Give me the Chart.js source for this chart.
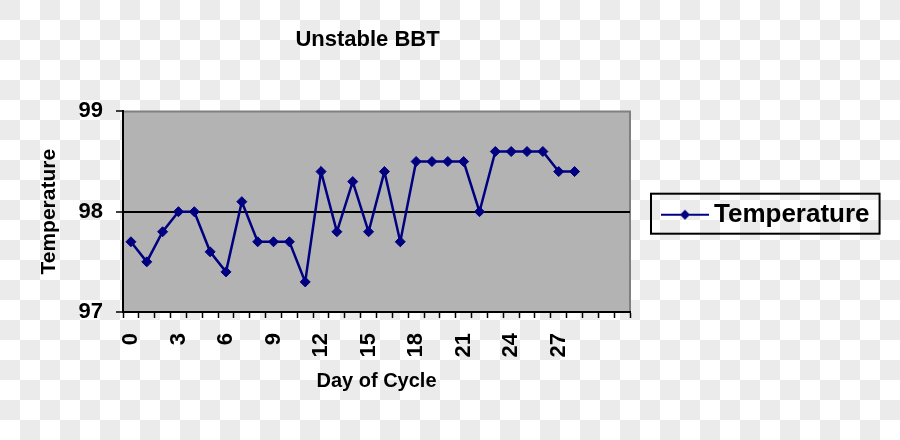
<!DOCTYPE html>
<html>
<head>
<meta charset="utf-8">
<script src="https://cdn.jsdelivr.net/npm/chart.js@4.4.1/dist/chart.umd.min.js"></script>
<style>
  html, body { margin: 0; padding: 0; }
  body {
    width: 900px; height: 440px; overflow: hidden;
    background-color: #ffffff;
    background-image:
      linear-gradient(45deg, #ebebeb 25%, transparent 25%, transparent 75%, #ebebeb 75%),
      linear-gradient(45deg, #ebebeb 25%, transparent 25%, transparent 75%, #ebebeb 75%);
    background-size: 40px 40px;
    background-position: 20px 0, 0 20px;
  }
  #wrap { position: relative; width: 900px; height: 440px; }
</style>
</head>
<body>
<div id="wrap"><canvas id="bbt" width="900" height="440"></canvas></div>
<script>
// ==================== DATA ====================
const days = ["0","1","2","3","4","5","6","7","8","9","10","11","12","13","14","15",
  "16","17","18","19","20","21","22","23","24","25","26","27","28","","",""];
const temperature = [97.7, 97.5, 97.8, 98.0, 98.0, 97.6, 97.4, 98.1, 97.7, 97.7, 97.7, 97.3,
  98.4, 97.8, 98.3, 97.8, 98.4, 97.7, 98.5, 98.5, 98.5, 98.5, 98.0, 98.6, 98.6, 98.6, 98.6, 98.4, 98.4];
const yTicks = [97, 98, 99];

const NAVY = "#000080";
const FONT = "'Liberation Sans', Arial, sans-serif";

// legend marker: line with diamond, like the Excel legend
const legendMarker = (() => {
  const c = document.createElement("canvas");
  c.width = 48; c.height = 14;
  const g = c.getContext("2d");
  g.strokeStyle = NAVY; g.lineWidth = 2;
  g.beginPath(); g.moveTo(0, 7); g.lineTo(48, 7); g.stroke();
  g.fillStyle = NAVY;
  g.beginPath(); g.moveTo(24, 2); g.lineTo(29, 7); g.lineTo(24, 12); g.lineTo(19, 7); g.closePath(); g.fill();
  return c;
})();

// grey plot area + grey top/right border
const plotBg = {
  id: "plotBg",
  beforeDraw(chart) {
    const { ctx, chartArea: a } = chart;
    ctx.save();
    ctx.fillStyle = "#b3b3b3";
    ctx.fillRect(a.left, a.top, a.right - a.left, a.bottom - a.top);
    ctx.strokeStyle = "#808080";
    ctx.lineWidth = 2;
    ctx.beginPath();
    ctx.moveTo(a.left, a.top); ctx.lineTo(a.right, a.top); ctx.lineTo(a.right, a.bottom);
    ctx.stroke();
    ctx.restore();
  }
};

// legend gets capped in width by the layout; give it room to the canvas edge so the text is not clipped
// (title nudged a bit left, Excel centres it that way)
const boxTweaks = {
  id: "boxTweaks",
  afterLayout(chart) {
    const lg = chart.legend;
    if (lg) {
      lg.right = chart.width;
      lg.width = lg.right - lg.left;
      lg.top += 3; lg.bottom += 3;
    }
    const tb = chart.titleBlock;
    if (tb) { tb.left -= 9; tb.right -= 9; }
  }
};

// frame round the legend
const legendFrame = {
  id: "legendFrame",
  afterDraw(chart) {
    const hb = chart.legend?.legendHitBoxes?.[0];
    if (!hb) return;
    const { ctx } = chart;
    ctx.save();
    ctx.strokeStyle = "#000";
    ctx.lineWidth = 2;
    ctx.strokeRect(hb.left - 18, hb.top - 8, hb.width + 28, hb.height + 14);
    ctx.restore();
  }
};

new Chart(document.getElementById("bbt"), {
  type: "line",
  data: {
    labels: days,
    datasets: [{
      label: "Temperature",
      data: temperature,
      borderColor: NAVY,
      backgroundColor: NAVY,
      borderWidth: 2.5,
      tension: 0,
      pointStyle: "rectRot",
      pointRadius: 5,
      pointBorderWidth: 1,
      pointBackgroundColor: NAVY,
      pointBorderColor: NAVY
    }]
  },
  options: {
    responsive: false,
    animation: false,
    devicePixelRatio: 1,
    layout: { padding: { left: 0, right: 60, top: 0, bottom: 0 } },
    plugins: {
      title: {
        display: true,
        text: "Unstable BBT",
        fullSize: false,
        color: "#000",
        font: { family: FONT, size: 22, weight: "bold" },
        padding: { top: 27, bottom: 58 }
      },
      legend: {
        position: "right",
        fullSize: false,
        labels: {
          usePointStyle: true,
          pointStyleWidth: 32,
          padding: 39,
          color: "#000",
          font: { family: FONT, size: 26, weight: "bold" },
          generateLabels: (chart) => chart.data.datasets.map((ds, i) => ({
            text: ds.label,
            datasetIndex: i,
            pointStyle: legendMarker,
            fillStyle: NAVY,
            strokeStyle: NAVY,
            lineWidth: 0,
            fontColor: "#000"
          }))
        }
      },
      tooltip: { enabled: false }
    },
    scales: {
      x: {
        type: "category",
        offset: true,
        afterFit: (s) => { s.height = 128; },
        grid: { display: true, drawOnChartArea: false, offset: true, tickLength: 6, tickColor: "#000", tickWidth: 1.5 },
        border: { color: "#000", width: 2 },
        ticks: {
          autoSkip: false,
          minRotation: 90,
          maxRotation: 90,
          padding: 15,
          color: "#000",
          font: { family: FONT, size: 22, weight: "bold" },
          callback: function (v, i) { return i % 3 === 0 ? this.getLabelForValue(v) : ""; }
        },
        title: {
          display: true,
          text: "Day of Cycle",
          color: "#000",
          font: { family: FONT, size: 20, weight: "bold" },
          padding: { top: 0, bottom: 47 }
        }
      },
      y: {
        min: yTicks[0],
        max: yTicks[yTicks.length - 1],
        afterFit: (s) => { s.width = 123; },
        afterBuildTicks: (s) => { s.ticks = yTicks.map(v => ({ value: v })); },
        grid: {
          color: (c) => c.tick && c.tick.value === 98 ? "#000" : "rgba(0,0,0,0)",
          lineWidth: 2,
          tickLength: 7,
          tickColor: "#000",
          tickWidth: 1.5
        },
        border: { color: "#000", width: 2 },
        ticks: {
          padding: 13,
          color: "#000",
          font: { family: FONT, size: 22, weight: "bold" }
        },
        title: {
          display: true,
          text: "Temperature",
          color: "#000",
          font: { family: FONT, size: 21, weight: "bold" },
          padding: { top: 37, bottom: 0 }
        }
      }
    }
  },
  plugins: [plotBg, boxTweaks, legendFrame]
});
</script>
</body>
</html>
